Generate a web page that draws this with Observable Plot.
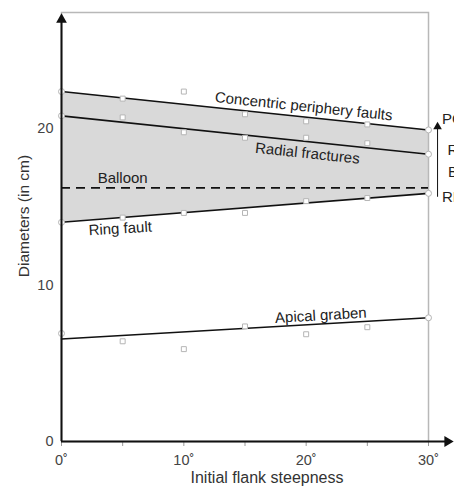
<!DOCTYPE html>
<html><head><meta charset="utf-8">
<script src="https://cdn.jsdelivr.net/npm/d3@7"></script>
<script src="https://cdn.jsdelivr.net/npm/@observablehq/plot@0.6"></script>
<style>
html,body{margin:0;padding:0;overflow:hidden;background:#fff;}
svg{font-family:"Liberation Sans",Arial,sans-serif;}
</style></head>
<body><div id="chart"></div>
<script>
// Data
const steepness = [0, 5, 10, 15, 20, 25, 30];
const concentric = [22.35, 21.9, 22.35, 20.9, 20.45, 20.25, 19.9];
const radial = [20.8, 20.7, 19.75, 19.4, 19.4, 19.05, 18.35];
const ring = [14.0, 14.3, 14.6, 14.6, 15.35, 15.55, 15.85];
const apical = [6.9, 6.4, 5.9, 7.35, 6.85, 7.3, 7.9];

const fitX = [0, 30];
const concentricFit = [22.35, 19.9];
const radialFit = [20.8, 18.35];
const ringFit = [14.0, 15.85];
const apicalFit = [6.55, 7.9];
const balloon = 16.2;

const yTicks = [0, 10, 20];
const xTicks = [0, 10, 20, 30];
const xMinorTicks = [0, 5, 10, 15, 20, 25, 30];

const lineLabels = [
  {text: "Concentric periphery faults", x: 19.8, y: 21.4, rotate: 5.9},
  {text: "Radial fractures", x: 20.1, y: 18.4, rotate: 6},
  {text: "Balloon", x: 5.0, y: 16.8, rotate: 0},
  {text: "Ring fault", x: 4.8, y: 13.6, rotate: -3.5},
  {text: "Apical graben", x: 21.2, y: 8.05, rotate: -3.3}
];
const sideLabels = [
  {text: "PCF", x: 31.1, y: 20.6},
  {text: "RF", x: 31.55, y: 18.6},
  {text: "B", x: 31.6, y: 17.2},
  {text: "RF", x: 31.1, y: 15.6}
];
const sideArrow = {x: 30.74, y1: 15.6, y2: 20.1};
const yAxisArrow = {x: 0, y1: 0, y2: 26.95};
const xAxisArrow = {y: 0, x1: 0, x2: 31.55};

const pts = (ys) => steepness.map((x, i) => ({x, y: ys[i]}));
const fit = (ys) => fitX.map((x, i) => ({x, y: ys[i]}));
const allPts = [concentric, radial, ring, apical].flatMap(pts);
const band = fitX.map((x, i) => ({x, lo: ringFit[i], hi: concentricFit[i]}));

const chart = Plot.plot({
  width: 454, height: 489,
  marginLeft: 61, marginRight: 26, marginTop: 12, marginBottom: 48,
  x: {domain: [0, 30]},
  y: {domain: [0, 27.4]},
  style: {fontFamily: "Liberation Sans, Arial, sans-serif", overflow: "visible"},
  marks: [
    Plot.areaY(band, {x: "x", y1: "lo", y2: "hi", fill: "#d9d9d9"}),
    Plot.frame({stroke: "#b8b8b8", strokeWidth: 1.5}),
    Plot.ruleY([balloon], {x1: 0, x2: 30, stroke: "#111", strokeWidth: 1.6, strokeDasharray: "9,6"}),
    Plot.line(fit(concentricFit), {x: "x", y: "y", stroke: "#111", strokeWidth: 1.6}),
    Plot.line(fit(radialFit), {x: "x", y: "y", stroke: "#111", strokeWidth: 1.6}),
    Plot.line(fit(ringFit), {x: "x", y: "y", stroke: "#111", strokeWidth: 1.6}),
    Plot.line(fit(apicalFit), {x: "x", y: "y", stroke: "#111", strokeWidth: 1.6}),
    Plot.dot(allPts.filter(d => d.x % 30 !== 0), {x: "x", y: "y", symbol: "square", r: 2.8, fill: "white", stroke: "#b5b5b5", strokeWidth: 1}),
    Plot.dot(allPts.filter(d => d.x % 30 === 0), {x: "x", y: "y", symbol: "circle", r: 3, fill: "white", stroke: "#b5b5b5", strokeWidth: 1}),
    Plot.text(lineLabels, {x: "x", y: "y", text: "text", rotate: "rotate", fontSize: 15, fill: "#222"}),
    // axes
    Plot.axisX({ticks: xMinorTicks, tickSize: 5, tickFormat: () => "", stroke: "#999"}),
    Plot.axisX({ticks: xTicks, tickSize: 0, tickPadding: 13, tickFormat: d => d + "˚", fontSize: 14.5, fill: "#444", label: null}),
    Plot.axisY({ticks: yTicks, tickSize: 0, tickPadding: 8, fontSize: 14.5, fill: "#444", label: null}),
    Plot.text(["Diameters (in cm)"], {frameAnchor: "left", textAnchor: "middle", dx: -37, dy: -11, rotate: -90, fontSize: 15.5, fill: "#333"}),
    Plot.text(["Initial flank steepness"], {frameAnchor: "bottom", textAnchor: "middle", dx: 22, dy: 41, fontSize: 16, fill: "#333"}),
    Plot.ruleX([yAxisArrow], {x: "x", y1: "y1", y2: "y2", stroke: "#111", strokeWidth: 2}),
    Plot.dot([yAxisArrow], {x: "x", y: "y2", symbol: "triangle", r: 4, fill: "#111"}),
    Plot.ruleY([xAxisArrow], {y: "y", x1: "x1", x2: "x2", stroke: "#111", strokeWidth: 2}),
    Plot.dot([xAxisArrow], {x: "x2", y: "y", symbol: "triangle", rotate: 90, r: 4, fill: "#111"}),
    // side arrow and labels
    Plot.ruleX([sideArrow], {x: "x", y1: "y1", y2: "y2", stroke: "#111", strokeWidth: 1}),
    Plot.dot([sideArrow], {x: "x", y: "y2", symbol: "triangle", r: 3.2, fill: "#111"}),
    Plot.text(sideLabels, {x: "x", y: "y", text: "text", textAnchor: "start", fontSize: 15, fill: "#222"})
  ]
});
document.getElementById("chart").appendChild(chart);
</script>
</body></html>
